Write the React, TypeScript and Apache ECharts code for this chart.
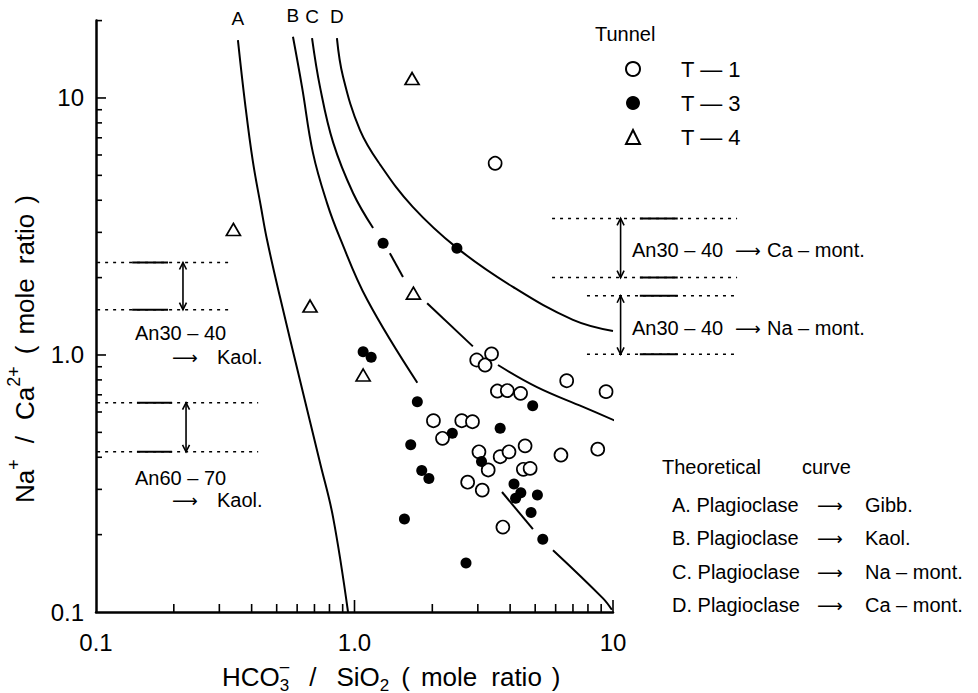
import React, { useEffect, useRef } from 'react';
import * as echarts from 'echarts';

const FONT = '"Liberation Sans", Arial, sans-serif';
const ARROW_FONT = '"DejaVu Sans", sans-serif';

// ---------- axes ----------
const X_MIN = 0.1;
const X_MAX = 10;
const Y_MIN = 0.1;
const Y_MAX = 20;
const tickValues = [0.1, 1, 10];
const tickLabels = ['0.1', '1.0', '10'];
const xMajorTicks = [1, 10];
const xMinorTicks = [0.2, 0.3, 0.4, 0.5, 0.6, 0.7, 0.8, 0.9, 2, 3, 4, 5, 6, 7, 8, 9];
const yMajorTicks = [1, 10];
const yMinorTicks = [0.2, 0.3, 0.4, 0.5, 0.6, 0.7, 0.8, 0.9, 2, 3, 4, 5, 6, 7, 8, 9, 20];

// ---------- theoretical curves (segments, gaps where points sit) ----------
const curveNames = ['A', 'B', 'C', 'D'];
const curveA = [
  [[0.354, 16.8], [0.377, 9.6], [0.404, 5.7], [0.434, 3.8], [0.459, 2.8], [0.515, 1.68], [0.615, 0.8], [0.736, 0.38], [0.826, 0.234], [0.944, 0.1]],
];
const curveB = [
  [[0.578, 17.3], [0.627, 11.0], [0.691, 6.1], [0.783, 3.9], [0.879, 2.85], [1.12, 1.64], [1.75, 0.78]],
  [[3.72, 0.293], [4.9, 0.21]],
  [[5.86, 0.174], [9.15, 0.113], [9.9, 0.102]],
];
const curveC = [
  [[0.685, 17.1], [0.736, 11.0], [0.827, 6.7], [0.987, 4.27], [1.18, 3.12]],
  [[1.37, 2.49], [1.54, 2.01]],
  [[1.91, 1.59], [2.87, 1.08]],
  [[3.59, 0.914], [5.08, 0.75], [7.66, 0.628], [10.9, 0.539]],
];
const curveD = [
  [[0.855, 17.1], [0.903, 12.1], [1.05, 7.5], [1.26, 5.48], [1.68, 3.77], [2.49, 2.61], [4.1, 1.84], [7.0, 1.37], [10.0, 1.24]],
];
const curves = [curveA, curveB, curveC, curveD];

// ---------- samples ----------
const seriesNames = ['T — 1', 'T — 3', 'T — 4'];
const t1 = [
  [3.5, 5.57], [2.97, 0.956], [3.2, 0.914], [3.39, 1.01], [3.57, 0.724], [3.9, 0.727], [4.39, 0.709],
  [6.62, 0.794], [9.4, 0.72], [2.02, 0.555], [2.6, 0.555], [2.86, 0.55], [2.19, 0.474], [3.03, 0.42],
  [3.66, 0.402], [3.96, 0.42], [4.57, 0.443], [6.29, 0.408], [8.73, 0.43], [3.29, 0.357], [4.5, 0.359],
  [4.78, 0.362], [2.74, 0.32], [3.12, 0.298], [3.75, 0.214],
];
const t3 = [
  [1.29, 2.72], [2.49, 2.6], [1.08, 1.03], [1.16, 0.98], [1.75, 0.658], [1.65, 0.447], [2.39, 0.496],
  [1.82, 0.355], [1.94, 0.331], [1.56, 0.23], [3.66, 0.519], [4.89, 0.635], [3.1, 0.385], [4.14, 0.315],
  [4.4, 0.291], [4.2, 0.277], [5.1, 0.285], [4.82, 0.244], [5.35, 0.192], [2.7, 0.155],
];
const t4 = [[1.67, 11.9], [0.34, 3.08], [0.673, 1.55], [1.08, 0.836], [1.69, 1.74]];

// ---------- plagioclase ranges (Na/Ca bounds) ----------
const kaol3040Range = [2.29, 1.5];
const kaol6070Range = [0.652, 0.42];
const caMont3040Range = [3.4, 2.0];
const naMont3040Range = [1.7, 1.006];
// extents (HCO3/SiO2 units) of the guide lines of each range: [start, end, solidStart, solidEnd, arrowX]
const kaol3040Guide = [0.101, 0.339, 0.138, 0.19, 0.217];
const kaol6070Guide = [0.101, 0.424, 0.144, 0.197, 0.223];
const caMontGuide = [5.81, 30.2, 12.7, 17.8, 10.7];
const naMontGuide = [7.93, 30.2, 12.7, 17.8, 10.7];

const ranges = [
  [kaol3040Range, kaol3040Guide],
  [kaol6070Range, kaol6070Guide],
  [caMont3040Range, caMontGuide],
  [naMont3040Range, naMontGuide],
];

// ---------- helpers ----------
let measureCtx: CanvasRenderingContext2D | null = null;
function measure(text: string, size: number, family = FONT) {
  if (!measureCtx) measureCtx = document.createElement('canvas').getContext('2d');
  if (!measureCtx) return text.length * size * 0.55;
  measureCtx.font = `${size}px ${family}`;
  return measureCtx.measureText(text).width;
}

// text centred vertically on y (top-aligned box shifted by half the font size)
function txt(text: string, x: number, y: number, size: number, extra: any = {}) {
  return {
    type: 'text',
    x,
    y: y - size / 2,
    silent: true,
    style: {
      text,
      fontSize: size,
      fontFamily: extra.family || FONT,
      fill: '#000',
      align: extra.align || 'left',
      verticalAlign: 'top',
    },
  };
}

type Seg = { t: string; size: number; dy?: number; gap?: number; stack?: boolean };
function lineOfSegs(segs: Seg[]) {
  let x = 0;
  let lastStart = 0;
  const children: any[] = [];
  for (const s of segs) {
    if (!s.stack) x += s.gap || 0;
    const sx = s.stack ? lastStart : x;
    children.push(txt(s.t, sx, s.dy || 0, s.size));
    if (!s.stack) {
      lastStart = x;
      x += measure(s.t, s.size);
    }
  }
  return children;
}

export default function App() {
  const ref = useRef<HTMLDivElement>(null);

  useEffect(() => {
    if (!ref.current) return;
    document.body.style.margin = '0';
    const chart = echarts.init(ref.current, undefined, { renderer: 'svg' });

    const series: any[] = [];

    curves.forEach((segs) => {
      segs.forEach((seg) => {
        series.push({
          type: 'line',
          data: seg,
          smooth: 0.4,
          symbol: 'none',
          showSymbol: false,
          clip: false,
          silent: true,
          z: 2,
          lineStyle: { color: '#000', width: 2 },
        });
      });
    });

    // curve letters
    series.push({
      type: 'scatter',
      silent: true,
      clip: false,
      symbolSize: 0.1,
      itemStyle: { color: '#000', opacity: 1 },
      data: curves.map((c) => c[0][0]),
      label: {
        show: true,
        position: 'top',
        distance: 12,
        formatter: (p: any) => curveNames[p.dataIndex],
        fontSize: 19,
        fontFamily: FONT,
        color: '#000',
        opacity: 1,
      },
      z: 3,
    });

    // range guide lines
    series.push({
      type: 'custom',
      silent: true,
      clip: false,
      z: 3,
      encode: { x: [0, 1, 3, 4], y: 2 },
      data: ranges.flatMap(([r, g]) => [
        [g[0], g[1], r[0], g[2], g[3]],
        [g[0], g[1], r[1], g[2], g[3]],
      ]),
      renderItem: (_p: any, api: any) => {
        const y = api.value(2);
        const a = api.coord([api.value(0), y]);
        const b = api.coord([api.value(1), y]);
        const s1 = api.coord([api.value(3), y]);
        const s2 = api.coord([api.value(4), y]);
        return {
          type: 'group',
          children: [
            { type: 'line', shape: { x1: a[0], y1: a[1], x2: b[0], y2: b[1] }, style: { stroke: '#000', lineWidth: 1.5, lineDash: [3, 5] } },
            { type: 'line', shape: { x1: s1[0], y1: s1[1], x2: s2[0], y2: s2[1] }, style: { stroke: '#000', lineWidth: 2 } },
          ],
        };
      },
    });

    // double arrows
    series.push({
      type: 'custom',
      silent: true,
      clip: false,
      z: 3,
      encode: { x: 0, y: [1, 2] },
      data: ranges.map(([r, g]) => [g[4], r[0], r[1]]),
      renderItem: (_p: any, api: any) => {
        const x = api.value(0);
        const p1 = api.coord([x, api.value(1)]);
        const p2 = api.coord([x, api.value(2)]);
        const h = 7;
        const w = 3.5;
        const st = { stroke: '#000', lineWidth: 1.6, fill: 'none' };
        return {
          type: 'group',
          children: [
            { type: 'line', shape: { x1: p1[0], y1: p1[1], x2: p2[0], y2: p2[1] }, style: st },
            { type: 'polyline', shape: { points: [[p1[0] - w, p1[1] + h], [p1[0], p1[1]], [p1[0] + w, p1[1] + h]] }, style: st },
            { type: 'polyline', shape: { points: [[p2[0] - w, p2[1] - h], [p2[0], p2[1]], [p2[0] + w, p2[1] - h]] }, style: st },
          ],
        };
      },
    });

    // axis ticks (inward): rows [xValue, yValue, yValue, kind, length]; kind 0 = x-axis, 1 = y-axis
    const tickRows = [
      ...xMajorTicks.map((v) => [v, 1, 1, 0, 12]),
      ...xMinorTicks.map((v) => [v, 1, 1, 0, 8]),
      ...yMajorTicks.map((v) => [1, v, v, 1, 10]),
      ...yMinorTicks.map((v) => [1, v, v, 1, 6]),
    ];
    series.push({
      type: 'custom',
      silent: true,
      clip: false,
      z: 3,
      encode: { x: 0, y: [1, 2] },
      data: tickRows,
      renderItem: (params: any, api: any) => {
        const kind = api.value(3);
        const len = api.value(4);
        const pt = api.coord([api.value(0), api.value(1)]);
        const cs = params.coordSys;
        const st = { stroke: '#000', lineWidth: 1.6, fill: 'none' };
        const bottom = cs.y + cs.height;
        const shape =
          kind === 0
            ? { x1: pt[0], y1: bottom, x2: pt[0], y2: bottom - len }
            : { x1: cs.x, y1: pt[1], x2: cs.x + len, y2: pt[1] };
        return { type: 'group', children: [{ type: 'line', shape, style: st }] };
      },
    });

    // samples
    series.push({
      type: 'scatter',
      name: seriesNames[0],
      data: t1,
      symbol: 'circle',
      symbolSize: 13,
      z: 5,
      itemStyle: { color: '#fff', borderColor: '#000', borderWidth: 1.7, opacity: 1 },
    });
    series.push({
      type: 'scatter',
      name: seriesNames[1],
      data: t3,
      symbol: 'circle',
      symbolSize: 11,
      z: 5,
      itemStyle: { color: '#000', borderColor: '#000', borderWidth: 0, opacity: 1 },
    });
    series.push({
      type: 'scatter',
      name: seriesNames[2],
      data: t4,
      symbol: 'triangle',
      symbolSize: [14, 12],
      z: 5,
      itemStyle: { color: '#fff', borderColor: '#000', borderWidth: 1.7, opacity: 1 },
    });

    const labelFmt = (v: number) => {
      for (let i = 0; i < tickValues.length; i++) {
        if (Math.abs(Math.log10(v) - Math.log10(tickValues[i])) < 1e-6) return tickLabels[i];
      }
      return '';
    };

    const xTitle = lineOfSegs([
      { t: 'HCO', size: 26 },
      { t: '3', size: 17, dy: 8 },
      { t: '–', size: 17, dy: -11, stack: true },
      { t: '/', size: 26, gap: 20 },
      { t: 'SiO', size: 26, gap: 20 },
      { t: '2', size: 17, dy: 8 },
      { t: '(', size: 26, gap: 12 },
      { t: 'mole', size: 26, gap: 11 },
      { t: 'ratio', size: 26, gap: 14 },
      { t: ')', size: 26, gap: 10 },
    ]);
    const yTitle = lineOfSegs([
      { t: 'Na', size: 26 },
      { t: '+', size: 18, dy: -11 },
      { t: '/', size: 26, gap: 16 },
      { t: 'Ca', size: 26, gap: 16 },
      { t: '2+', size: 18, dy: -11 },
      { t: '(', size: 26, gap: 12 },
      { t: 'mole', size: 26, gap: 11 },
      { t: 'ratio', size: 26, gap: 14 },
      { t: ')', size: 26, gap: 10 },
    ]);

    const graphic: any[] = [
      { type: 'group', x: 222, y: 677, children: xTitle },
      { type: 'group', x: 25, y: 503, rotation: Math.PI / 2, children: yTitle },
      txt('Tunnel', 595, 34, 20),
      // left annotations
      txt('An30 – 40', 135, 333, 20),
      txt('⟶', 172, 357, 18, { family: ARROW_FONT }),
      txt('Kaol.', 217, 357, 20),
      txt('An60 – 70', 135, 478, 20),
      txt('⟶', 172, 500, 18, { family: ARROW_FONT }),
      txt('Kaol.', 217, 500, 20),
      // right annotations
      txt('An30 – 40', 632, 250, 20),
      txt('⟶', 735, 250, 18, { family: ARROW_FONT }),
      txt('Ca – mont.', 767, 250, 20),
      txt('An30 – 40', 632, 328, 20),
      txt('⟶', 735, 328, 18, { family: ARROW_FONT }),
      txt('Na – mont.', 767, 328, 20),
      // theoretical curve block
      txt('Theoretical', 662, 467, 20),
      txt('curve', 802, 467, 20),
    ];
    const theo = [
      ['A. Plagioclase', 'Gibb.'],
      ['B. Plagioclase', 'Kaol.'],
      ['C. Plagioclase', 'Na – mont.'],
      ['D. Plagioclase', 'Ca – mont.'],
    ];
    const theoY = [505, 538, 572, 605];
    theo.forEach((row, i) => {
      graphic.push(txt(row[0], 672, theoY[i], 20));
      graphic.push(txt('⟶', 817, theoY[i], 18, { family: ARROW_FONT }));
      graphic.push(txt(row[1], 865, theoY[i], 20));
    });

    chart.setOption({
      animation: false,
      backgroundColor: '#fff',
      grid: { left: 96, right: 365, top: 20.6, bottom: 81 },
      xAxis: {
        type: 'log',
        logBase: 10,
        min: X_MIN,
        max: X_MAX,
        axisLine: { show: true, lineStyle: { color: '#000', width: 2.5 } },
        axisTick: { show: false },
        minorTick: { show: false },
        splitLine: { show: false },
        minorSplitLine: { show: false },
        axisLabel: { formatter: labelFmt, color: '#000', fontSize: 24, fontFamily: FONT, margin: 18 },
      },
      yAxis: {
        type: 'log',
        logBase: 10,
        min: Y_MIN,
        max: Y_MAX,
        axisLine: { show: true, lineStyle: { color: '#000', width: 2.5 } },
        axisTick: { show: false },
        minorTick: { show: false },
        splitLine: { show: false },
        minorSplitLine: { show: false },
        axisLabel: { formatter: labelFmt, color: '#000', fontSize: 24, fontFamily: FONT, margin: 12 },
      },
      legend: {
        orient: 'vertical',
        left: 625,
        top: 58,
        padding: 0,
        itemWidth: 14,
        itemHeight: 14,
        itemGap: 12,
        selectedMode: false,
        data: seriesNames,
        formatter: (name: string) => `{g|}{n|${name}}`,
        textStyle: {
          color: '#000',
          fontSize: 22,
          fontFamily: FONT,
          lineHeight: 20,
          rich: {
            g: { width: 36 },
            n: { fontSize: 22, fontFamily: FONT, color: '#000', lineHeight: 20 },
          },
        },
      },
      tooltip: { show: false },
      graphic,
      series,
    });

    return () => chart.dispose();
  }, []);

  return (
    <div style={{ position: 'fixed', left: 0, top: 0, width: 978, height: 693, background: '#fff' }}>
      <div ref={ref} style={{ width: 978, height: 693 }} />
    </div>
  );
}
